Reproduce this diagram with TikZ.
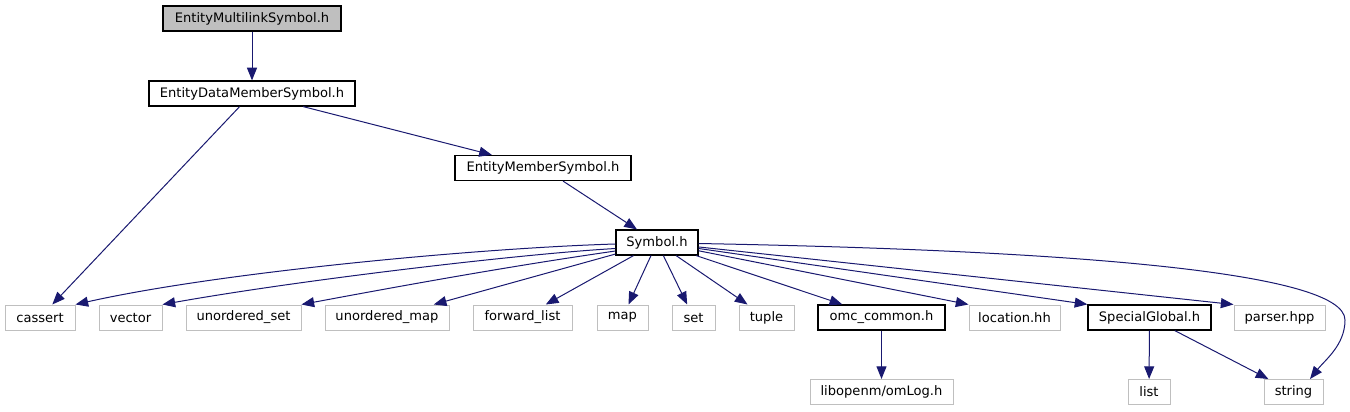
\documentclass[tikz,border=0pt]{standalone}
\usepackage{fontspec}
\setmainfont{DejaVu Sans}
\usetikzlibrary{arrows.meta,calc}
\definecolor{edgec}{HTML}{191970}
\definecolor{greyb}{HTML}{BFBFBF}
\begin{document}
\begin{tikzpicture}[x=0.75pt,y=-0.75pt,
  nd/.style={rectangle, inner sep=0pt, minimum height=18.75pt, font=\fontsize{9.8pt}{11pt}\selectfont},
  bk/.style={nd, draw=black, line width=0.9pt},
  gr/.style={nd, draw=greyb, line width=0.75pt},
  wd/.style={minimum width=#1*0.75pt},
  e/.style={draw=edgec, line width=0.75pt, -{Triangle[length=9.5pt,width=7.5pt]}}]
\useasboundingbox (0,0) rectangle (1350,411);
% nodes
\node[bk, fill=greyb, wd=178] (ems) at (252,18.5) {EntityMultilinkSymbol.h};
\node[bk, wd=206] (edms) at (252,93.5) {EntityDataMemberSymbol.h};
\node[bk, wd=176] (emem) at (543,168) {EntityMemberSymbol.h};
\node[bk, wd=82] (sym) at (657,242.5) {Symbol.h};
\node[gr, wd=70] (cassert) at (40,317.5) {cassert};
\node[gr, wd=63] (vector) at (130.5,317.5) {vector};
\node[gr, wd=115] (uset) at (243.5,317.5) {unordered\_set};
\node[gr, wd=124] (umap) at (387,317.5) {unordered\_map};
\node[gr, wd=99] (flist) at (522.5,317.5) {forward\_list};
\node[gr, wd=51] (nmap) at (622.5,317.5) {map};
\node[gr, wd=43] (nset) at (693.5,317.5) {set};
\node[gr, wd=55] (tuple) at (766.5,317.5) {tuple};
\node[bk, wd=127] (omc) at (881.5,317.5) {omc\_common.h};
\node[gr, wd=91] (loc) at (1014.5,317.5) {location.hh};
\node[bk, wd=123] (sg) at (1149.5,317.5) {SpecialGlobal.h};
\node[gr, wd=91] (parser) at (1279.5,317.5) {parser.hpp};
\node[gr, wd=143] (libopenm) at (881.5,392) {libopenm/omLog.h};
\node[gr, wd=42] (nlist) at (1149,392) {list};
\node[gr, wd=59] (nstring) at (1293.5,392) {string};
% edges
\draw[e] (ems) -- (edms);
\draw[e] (edms) -- (cassert);
\draw[e] (edms) -- (emem);
\draw[e] (emem) -- (sym);
\draw[e] ($(sym.west)+(0,1.5)$) .. controls (480,248) and (220,272) .. (cassert.north east);
\draw[e] ($(sym.west)+(0,6)$) .. controls (520,254) and (300,280) .. (vector.north east);
\draw[e] ($(sym.west)+(0,8.5)$) .. controls (511,266) and (406,285) .. (uset.north east);
\draw[e] (sym) -- (umap);
\draw[e] (sym) -- (flist);
\draw[e] (sym) -- (nmap);
\draw[e] (sym) -- (nset);
\draw[e] (sym) -- (tuple);
\draw[e] (sym) -- (omc);
\draw[e] (sym) -- (loc.north west);
\draw[e] (sym) -- (sg.north west);
\draw[e] (sym) -- (parser.north west);
\draw[e] ($(sym.east)+(0,1)$) .. controls (1050,250) and (1345,270) .. (1345,320) .. controls (1345,345) and (1325,360) .. ($(nstring.north)+(16.5,0)$);
\draw[e] (omc) -- (libopenm);
\draw[e] (sg) -- (nlist);
\draw[e] (sg) -- (nstring);
\end{tikzpicture}
\end{document}
